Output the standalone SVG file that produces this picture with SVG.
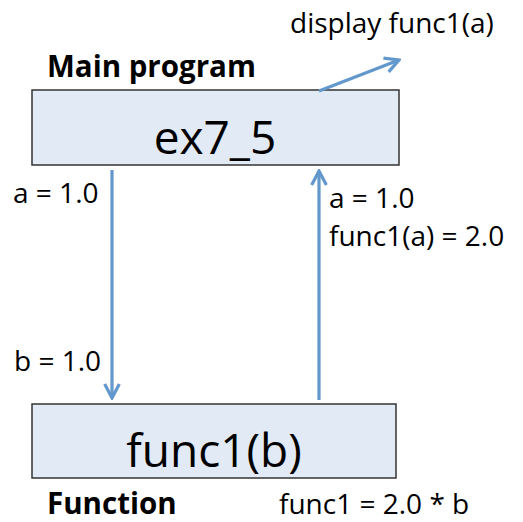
<svg xmlns="http://www.w3.org/2000/svg" width="523" height="522" viewBox="0 0 523 522">
<style>
.box{fill:#e2eaf5;stroke:#333;stroke-width:1.5}
.t{font-family:"Open Sans","Noto Sans",sans-serif;fill:#000}
.s{font-size:28px}
.b{font-size:29.5px;font-weight:bold}
.big{font-size:46px}
.c{stroke:#6398cd;stroke-width:3.2;fill:none}
</style>
<defs>
<marker id="ah" viewBox="0 0 12 12" refX="10.5" refY="6" markerWidth="5.5" markerHeight="5.5" orient="auto" markerUnits="strokeWidth">
<path d="M1,1 L10.5,6 L1,11" fill="none" stroke="#6398cd" stroke-width="2.2" stroke-linejoin="miter"/>
</marker>
</defs>
<rect width="523" height="522" fill="#fff"/>
<g id="main">
<rect class="box" x="32" y="90" width="367" height="75"/>
<text class="t big" x="215" y="154" text-anchor="middle">ex7_5</text>
<text class="t b" x="47" y="77">Main program</text>
</g>
<g id="func">
<rect class="box" x="32" y="404" width="364" height="74"/>
<text class="t big" x="214" y="467" text-anchor="middle">func1(b)</text>
<text class="t b" x="47" y="514">Function</text>
</g>
<g id="connectors">
<line class="c" x1="112" y1="170" x2="112" y2="398" marker-end="url(#ah)"/>
<line class="c" x1="319" y1="400" x2="319" y2="171" marker-end="url(#ah)"/>
<line class="c" x1="319" y1="91" x2="399" y2="60" marker-end="url(#ah)"/>
</g>
<g id="labels">
<text class="t s" x="290" y="33">display func1(a)</text>
<text class="t s" x="13" y="203">a = 1.0</text>
<text class="t s" x="14" y="371">b = 1.0</text>
<text class="t s" x="329" y="208">a = 1.0</text>
<text class="t s" x="329" y="246">func1(a) = 2.0</text>
<text class="t s" x="279" y="514">func1 = 2.0 * b</text>
</g>
</svg>
